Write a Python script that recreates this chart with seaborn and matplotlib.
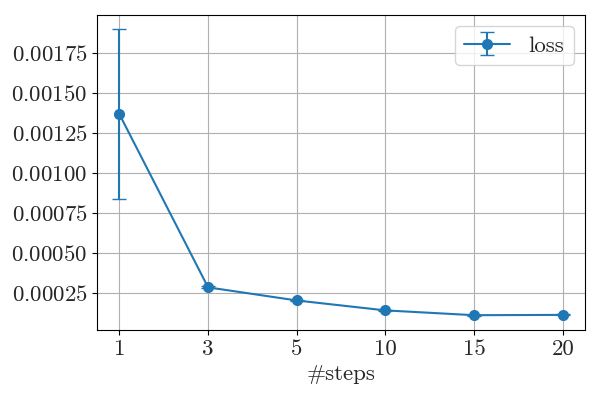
import numpy as np
import matplotlib
matplotlib.use("Agg")
import matplotlib.pyplot as plt
from matplotlib.ticker import MultipleLocator
import seaborn as sns

steps = ["1", "3", "5", "10", "15", "20"]
loss = [0.00137, 0.000288, 0.000206, 0.000144, 0.000114, 0.000116]
loss_err = [0.00053, 0.000006, 0.000004, 0.000003, 0.000003, 0.000003]

sns.set_style("ticks", {"axes.grid": True, "grid.color": "#b0b0b0",
                        "axes.edgecolor": "black", "xtick.direction": "out",
                        "ytick.direction": "out"})
plt.rcParams["font.family"] = ["cmr10", "DejaVu Serif"]
plt.rcParams["mathtext.fontset"] = "cm"
plt.rcParams["axes.formatter.use_mathtext"] = True
plt.rcParams["font.size"] = 16.5

fig, ax = plt.subplots(figsize=(6, 4), dpi=100)
x = np.arange(len(steps))
ax.errorbar(x, loss, yerr=loss_err, marker="o", capsize=5, color="#1f77b4",
            label="loss", linewidth=1.5, markersize=7)
ax.set_xticks(x)
ax.set_xticklabels(steps)
ax.yaxis.set_major_locator(MultipleLocator(0.00025))
ax.set_xlabel("#steps")
ax.grid(True, color="#b0b0b0", linewidth=0.8)
ax.tick_params(labelsize=16.5, length=3.5, width=0.8, color="black")
for s in ax.spines.values():
    s.set_color("black")
    s.set_linewidth(0.8)
ax.legend(loc="upper right", fontsize=16.5)
fig.subplots_adjust(left=0.162, right=0.975, top=0.9625, bottom=0.175)
plt.savefig("out.png", dpi=100)
